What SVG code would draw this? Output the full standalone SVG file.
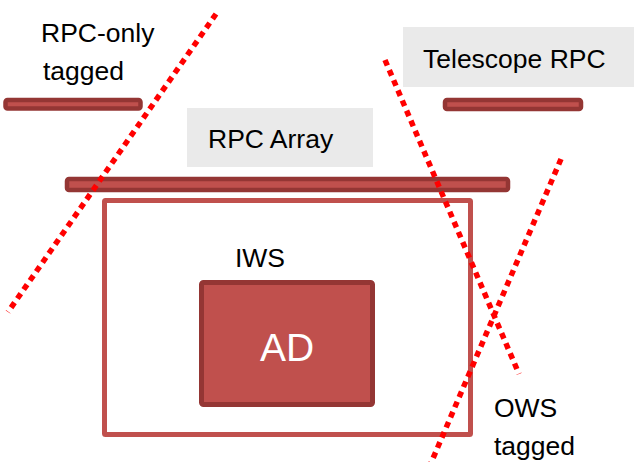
<svg xmlns="http://www.w3.org/2000/svg" width="634" height="462" viewBox="0 0 634 462">
  <style>
    .lbl { font-family: "Liberation Sans", Arial, sans-serif; font-size: 26.5px; fill: #000; }
    .tag { fill: #EAEAEA; }
    .bar { fill: #C0504D; stroke: #943634; stroke-width: 4.5; }
    .cut { fill: none; stroke: #FF0000; stroke-width: 5.5; stroke-dasharray: 6 5; }
  </style>
  <rect width="634" height="462" fill="#FFFFFF"/>

  <!-- detector nodes -->
  <g id="rpc-only">
    <text class="lbl" x="41" y="42">RPC-only</text>
    <text class="lbl" x="43" y="80">tagged</text>
    <rect class="bar" x="5.5" y="100" width="135" height="8.5" rx="2"/>
  </g>

  <g id="telescope-rpc">
    <rect class="tag" x="403" y="27" width="231" height="60"/>
    <text class="lbl" x="423" y="68">Telescope RPC</text>
    <rect class="bar" x="445" y="100" width="136" height="9" rx="2"/>
  </g>

  <g id="rpc-array">
    <rect class="tag" x="187" y="108" width="186" height="59"/>
    <text class="lbl" x="208" y="148">RPC Array</text>
    <rect class="bar" x="67" y="179" width="441" height="11" rx="2"/>
  </g>

  <g id="iws">
    <rect x="104.5" y="200.5" width="366" height="234" fill="none" stroke="#C0504D" stroke-width="5" rx="1"/>
    <text class="lbl" x="235" y="267">IWS</text>
  </g>

  <g id="ad">
    <rect x="201.5" y="282.5" width="171" height="122" fill="#C0504D" stroke="#943634" stroke-width="5" rx="2"/>
    <text class="lbl" x="260" y="361" style="font-size:39px; fill:#FFFFFF">AD</text>
  </g>

  <g id="ows">
    <text class="lbl" x="494" y="417">OWS</text>
    <text class="lbl" x="494" y="455">tagged</text>
  </g>

  <!-- dotted tagging boundaries -->
  <g id="connectors">
    <line class="cut" x1="216" y1="14" x2="8" y2="312"/>
    <line class="cut" x1="385" y1="60" x2="519" y2="374"/>
    <line class="cut" x1="561" y1="159" x2="428" y2="470"/>
  </g>
</svg>
